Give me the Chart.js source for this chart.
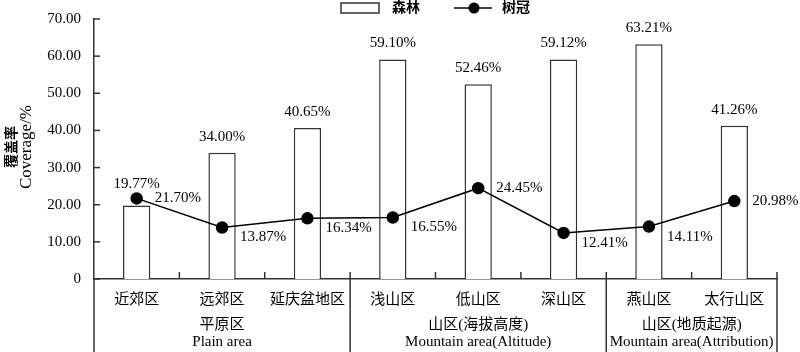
<!DOCTYPE html>
<html>
<head>
<meta charset="utf-8">
<script src="https://cdn.jsdelivr.net/npm/chart.js@4"></script>
<style>
  body { margin: 0; background: #fff; }
</style>
</head>
<body>
<canvas id="coverChart" width="800" height="352"></canvas>
<script>
const categories = ['近郊区', '远郊区', '延庆盆地区', '浅山区', '低山区', '深山区', '燕山区', '太行山区'];
const forestValues = [19.77, 34.00, 40.65, 59.10, 52.46, 59.12, 63.21, 41.26];
const crownValues = [21.70, 13.87, 16.34, 16.55, 24.45, 12.41, 14.11, 20.98];
const groupNames = [['平原区', 'Plain area'], ['山区(海拔高度)', 'Mountain area(Altitude)'], ['山区(地质起源)', 'Mountain area(Attribution)']];
const groupSizes = [3, 3, 2];
const seriesNames = ['森林', '树冠'];

const FONT = "'Liberation Serif', 'Noto Sans CJK SC', serif";
const AXIS = '#333';

// labels, legend, group rows and axis extras
const extras = {
    id: 'extras',
    afterDatasetsDraw(chart) {
        const ctx = chart.ctx;
        const barMeta = chart.getDatasetMeta(1);
        const lineMeta = chart.getDatasetMeta(0);
        ctx.save();
        ctx.fillStyle = '#000';
        ctx.font = '15px ' + FONT;
        ctx.textBaseline = 'middle';
        ctx.textAlign = 'center';
        barMeta.data.forEach((bar, i) => {
            const pt = lineMeta.data[i];
            let y = bar.y - 16;
            if (pt.y < bar.y) y = pt.y - 14;
            ctx.fillText(forestValues[i].toFixed(2) + '%', bar.x, y);
        });
        ctx.textAlign = 'left';
        lineMeta.data.forEach((pt, i) => {
            const next = crownValues[i + 1];
            const dy = (next === undefined || next < crownValues[i]) ? 0 : 10;
            ctx.fillText(crownValues[i].toFixed(2) + '%', pt.x + 18, pt.y + dy);
        });
        ctx.restore();
    },
    afterDraw(chart) {
        const ctx = chart.ctx;
        const area = chart.chartArea;
        const y = chart.scales.y;
        const H = chart.height;
        const step = (area.right - area.left) / categories.length;
        ctx.save();
        ctx.strokeStyle = AXIS;
        ctx.lineWidth = 1.5;

        // y ticks pointing in
        y.ticks.forEach(t => {
            const py = y.getPixelForValue(t.value);
            ctx.beginPath();
            ctx.moveTo(area.left, py);
            ctx.lineTo(area.left + 6, py);
            ctx.stroke();
        });

        // left axis down to the bottom
        ctx.beginPath();
        ctx.moveTo(area.left, area.bottom);
        ctx.lineTo(area.left, H);
        ctx.stroke();

        // category boundaries; group edges run to the bottom
        let edges = [0];
        groupSizes.reduce((a, n) => { edges.push(a + n); return a + n; }, 0);
        for (let k = 1; k <= categories.length; k++) {
            const px = area.left + k * step;
            const isEdge = edges.includes(k);
            ctx.beginPath();
            ctx.moveTo(px, area.bottom - 7);
            ctx.lineTo(px, isEdge ? H : area.bottom);
            ctx.stroke();
        }

        // group labels
        ctx.fillStyle = '#000';
        ctx.textAlign = 'center';
        ctx.textBaseline = 'middle';
        groupNames.forEach((g, gi) => {
            const cx = area.left + (edges[gi] + edges[gi + 1]) / 2 * step;
            ctx.font = '15px ' + FONT;
            ctx.fillText(g[0], cx, 325);
            ctx.fillText(g[1], cx, 342);
        });

        // y title
        ctx.save();
        ctx.translate(12, 147);
        ctx.rotate(-Math.PI / 2);
        ctx.font = 'bold 14px ' + FONT;
        ctx.fillText('覆盖率', 0, 0);
        ctx.restore();
        ctx.save();
        ctx.translate(27, 147);
        ctx.rotate(-Math.PI / 2);
        ctx.font = '17px ' + FONT;
        ctx.fillText('Coverage/%', 0, 0);
        ctx.restore();

        // legend
        ctx.lineWidth = 1.5;
        ctx.strokeStyle = AXIS;
        ctx.fillStyle = '#fff';
        ctx.fillRect(341, 3, 38, 10);
        ctx.strokeRect(341, 3, 38, 10);
        ctx.fillStyle = '#000';
        ctx.textAlign = 'left';
        ctx.font = 'bold 14px ' + FONT;
        ctx.fillText(seriesNames[0], 392, 8);
        ctx.strokeStyle = '#000';
        ctx.beginPath();
        ctx.moveTo(454, 8);
        ctx.lineTo(492, 8);
        ctx.stroke();
        ctx.beginPath();
        ctx.arc(474, 8, 5.5, 0, Math.PI * 2);
        ctx.fill();
        ctx.fillText(seriesNames[1], 502, 8);
        ctx.restore();
    }
};

new Chart(document.getElementById('coverChart'), {
    type: 'bar',
    data: {
        labels: categories,
        datasets: [{
            type: 'line',
            label: seriesNames[1],
            data: crownValues,
            order: 0,
            borderColor: '#000',
            borderWidth: 1.5,
            pointRadius: 5.5,
            pointBackgroundColor: '#000',
            pointBorderColor: '#000',
            tension: 0
        }, {
            label: seriesNames[0],
            data: forestValues,
            order: 1,
            backgroundColor: '#fff',
            borderColor: AXIS,
            borderWidth: 1.5,
            categoryPercentage: 1,
            barPercentage: 0.32
        }]
    },
    options: {
        responsive: false,
        animation: false,
        layout: { padding: { top: 19, right: 23, left: 0, bottom: 0 } },
        plugins: {
            legend: { display: false },
            tooltip: { enabled: false }
        },
        scales: {
            x: {
                grid: { display: false },
                border: { display: true, color: AXIS, width: 1.5 },
                ticks: { color: '#000', font: { family: FONT, size: 15 }, padding: 4, maxRotation: 0 },
                afterFit: s => { s.height = 73; }
            },
            y: {
                min: 0,
                max: 70,
                grid: { display: false },
                border: { display: true, color: AXIS, width: 1.5 },
                ticks: {
                    stepSize: 10,
                    color: '#000',
                    font: { family: FONT, size: 15 },
                    padding: 5,
                    callback: v => v === 0 ? '0' : v.toFixed(2)
                },
                afterFit: s => { s.width = 94; }
            }
        }
    },
    plugins: [extras]
});
</script>
</body>
</html>
